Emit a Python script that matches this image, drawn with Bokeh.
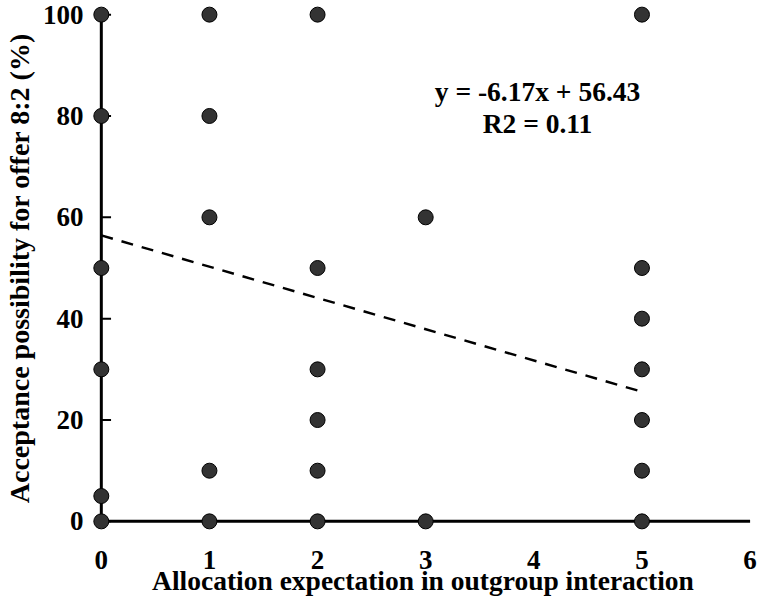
from bokeh.plotting import figure
from bokeh.models import Range1d, FixedTicker, Label
from bokeh.embed import file_html
from bokeh.resources import INLINE

# ---- data ----
x_vals = [0, 0, 0, 0, 0, 0,
          1, 1, 1, 1, 1,
          2, 2, 2, 2, 2, 2,
          3, 3,
          5, 5, 5, 5, 5, 5, 5]
y_vals = [100, 80, 50, 30, 5, 0,
          100, 80, 60, 10, 0,
          100, 50, 30, 20, 10, 0,
          60, 0,
          100, 50, 40, 30, 20, 10, 0]
slope = -6.17
intercept = 56.43
r2 = 0.11
x_ticks = [0, 1, 2, 3, 4, 5, 6]
y_ticks = [0, 20, 40, 60, 80, 100]
x_title = "Allocation expectation in outgroup interaction"
y_title = "Acceptance possibility for offer 8:2 (%)"

FONT = "Liberation Serif"
TICK_FS = "27px"
TITLE_FS = "27.5px"

p = figure(width=765, height=600, output_backend="svg", toolbar_location=None,
           x_range=Range1d(-0.1, 6.05), y_range=Range1d(-2, 102),
           min_border_left=90, min_border_right=10, min_border_top=4,
           min_border_bottom=69)
p.outline_line_color = None
p.xgrid.visible = False
p.ygrid.visible = False
p.background_fill_color = "white"
p.border_fill_color = "white"

for ax in (p.xaxis[0], p.yaxis[0]):
    ax.axis_line_alpha = 0
    ax.major_tick_in = 0
    ax.major_tick_out = 0
    ax.minor_tick_in = 0
    ax.minor_tick_out = 0
    ax.major_label_text_font = FONT
    ax.major_label_text_font_size = TICK_FS
    ax.major_label_text_font_style = "bold"
    ax.major_label_text_color = "black"
    ax.axis_label_text_font = FONT
    ax.axis_label_text_font_style = "bold"
    ax.axis_label_text_color = "black"

p.xaxis.ticker = FixedTicker(ticks=x_ticks)
p.yaxis.ticker = FixedTicker(ticks=y_ticks)
p.xaxis.axis_label = x_title
p.yaxis.axis_label = y_title
p.xaxis.axis_label_text_font_size = TITLE_FS
p.yaxis.axis_label_text_font_size = "28px"
p.xaxis.major_label_standoff = 19
p.xaxis.axis_label_standoff = -7
p.yaxis.major_label_standoff = 7
p.yaxis.axis_label_standoff = 5

x0, x1 = min(x_ticks), max(x_ticks)
y0, y1 = min(y_ticks), max(y_ticks)

# axis lines
p.segment(x0=[x0], y0=[y0], x1=[x0], y1=[y1], line_color="black", line_width=3)
p.segment(x0=[x0], y0=[y0], x1=[x1], y1=[y0], line_color="black", line_width=3)
# y ticks pointing inward
p.segment(x0=[x0] * len(y_ticks), y0=y_ticks, x1=[x0 + 0.09] * len(y_ticks), y1=y_ticks,
          line_color="black", line_width=2)

# trend line
xs = [min(x_vals), max(x_vals)]
ys = [slope * v + intercept for v in xs]
p.line(xs, ys, line_color="black", line_width=2.5, line_dash="12 9")

# points
p.scatter(x_vals, y_vals, size=15, fill_color="#333333", line_color="black", line_width=1)

eq1 = f"y = {slope:.2f}x + {intercept:.2f}"
eq2 = f"R2 = {r2:.2f}"
for txt, yy in ((eq1, 84.8), (eq2, 78.6)):
    p.add_layout(Label(x=4.034, y=yy, text=txt, text_align="center", text_baseline="middle",
                       text_font=FONT, text_font_size=TITLE_FS, text_font_style="bold",
                       text_color="black"))

open("out.html", "w").write(file_html(p, INLINE))
